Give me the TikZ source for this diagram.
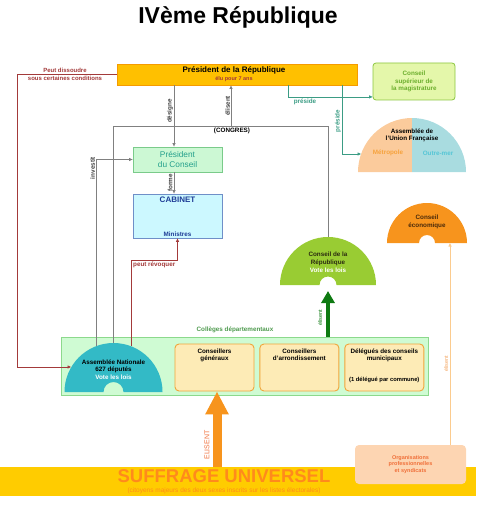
\documentclass[tikz,border=0pt]{standalone}
\usepackage{fontspec}
\setmainfont{Liberation Sans}
\usetikzlibrary{positioning}
\usetikzlibrary{calc}
\usetikzlibrary{arrows.meta}

\definecolor{presfill}{HTML}{FFC000}
\definecolor{presdraw}{HTML}{F59B00}
\definecolor{suffill}{HTML}{FFCC00}
\definecolor{suftext}{HTML}{FF8A1C}
\definecolor{redline}{HTML}{A33A3A}
\definecolor{grayline}{HTML}{808080}
\definecolor{labelgray}{HTML}{3F3F3F}
\definecolor{presteal}{HTML}{3B9C84}
\definecolor{pdcfill}{HTML}{CCF8D4}
\definecolor{pdcdraw}{HTML}{7ACB8A}
\definecolor{pdctext}{HTML}{24A08C}
\definecolor{cabfill}{HTML}{CCF8FF}
\definecolor{cabdraw}{HTML}{6F8FC8}
\definecolor{cabtext}{HTML}{1E3C96}
\definecolor{csmfill}{HTML}{E4F7AA}
\definecolor{csmdraw}{HTML}{8CC63F}
\definecolor{csmtext}{HTML}{6BAE2C}
\definecolor{ufpeach}{HTML}{FBCB9C}
\definecolor{ufblue}{HTML}{A9DCE0}
\definecolor{metrotext}{HTML}{F6A23C}
\definecolor{outretext}{HTML}{55C6D6}
\definecolor{ecofill}{HTML}{F7941D}
\definecolor{ecotext}{HTML}{4A2A0A}
\definecolor{repfill}{HTML}{99CC33}
\definecolor{reptext}{HTML}{2B2B10}
\definecolor{anfill}{HTML}{33BAC6}
\definecolor{colfill}{HTML}{CFFBD3}
\definecolor{coldraw}{HTML}{8CD98C}
\definecolor{coltext}{HTML}{4E9A4E}
\definecolor{consfill}{HTML}{FDEBB6}
\definecolor{consdraw}{HTML}{F0A53A}
\definecolor{orgfill}{HTML}{FDD5B2}
\definecolor{orgtext}{HTML}{F0703A}
\definecolor{greenarrow}{HTML}{0E7A12}
\definecolor{orangearrow}{HTML}{F7941D}
\definecolor{ecoline}{HTML}{FBCB8E}
\definecolor{ecolbl}{HTML}{F3A560}

\begin{document}
\begin{tikzpicture}[x=1pt,y=1pt,
		lbl/.style={font=\fontsize{6.3}{7.3}\selectfont\bfseries,inner sep=0pt,align=center},
		vlbl/.style={lbl,rotate=90},
		tip/.style={-{Triangle[length=3.5pt,width=3pt]}},
		conn/.style={draw=grayline,line width=0.7pt},
		consbox/.style={draw=consdraw,line width=0.9pt,fill=consfill,rounded corners=4pt,minimum width=79pt,minimum height=47pt,inner sep=0pt}]

		\useasboundingbox (0,0) rectangle (481,-508);

		% titre
		\node[font=\fontsize{23}{26}\selectfont\bfseries] (title) at (238,-17) {IVème République};

		% president de la republique
		\node[fill=presfill,draw=presdraw,line width=0.8pt,minimum width=240pt,minimum height=21pt,inner sep=0pt] (pres) at (237,-74.5) {};
		\node[font=\fontsize{8}{9}\selectfont\bfseries,inner sep=0pt] (presT) at (234,-70) {Président de la République};
		\node[lbl,font=\fontsize{5.5}{6}\selectfont\bfseries,text=redline,below=2pt of presT] (presE) {élu pour 7 ans};

		% conseil superieur de la magistrature
		\node[fill=csmfill,draw=csmdraw,line width=0.8pt,rounded corners=3pt,minimum width=82pt,minimum height=37pt,lbl,text=csmtext] (csm) at (414,-81.5)
		{Conseil\\supérieur de\\la magistrature};

		% assemblee de l'union francaise
		\fill[ufpeach] (412,-172) -- (358,-172) arc[start angle=180,end angle=90,radius=54] -- cycle;
		\fill[ufblue] (412,-172) -- (412,-118) arc[start angle=90,end angle=0,radius=54] -- cycle;
		\node[lbl] (ufT) at (412,-135) {Assemblée de\\l'Union Française};
		\node[lbl,text=metrotext] (ufM) at (388,-153) {Métropole};
		\node[lbl,text=outretext] (ufO) at (438,-153) {Outre-mer};
		\coordinate (ufL) at (361,-154);

		% conseil economique
		\fill[ecofill] (387,-243) arc[start angle=180,end angle=0,radius=40] -- (435,-243) arc[start angle=0,end angle=180,radius=8] -- cycle;
		\node[lbl,text=ecotext] (ceT) at (427,-222) {Conseil\\économique};
		\coordinate (ceB) at (450,-243);

		% president du conseil et cabinet
		\node[fill=pdcfill,draw=pdcdraw,line width=0.8pt,minimum width=89pt,minimum height=25pt,inner sep=0pt,align=center,text=pdctext,font=\fontsize{8.3}{9.5}\selectfont] (pdc) at (177.5,-159.5)
		{Président\\du Conseil};
		\node[fill=cabfill,draw=cabdraw,line width=0.8pt,minimum width=89pt,minimum height=44pt,inner sep=0pt] (cab) at (177.5,-216) {};
		\node[font=\fontsize{8}{9}\selectfont\bfseries,text=cabtext,inner sep=0pt,below=3pt of cab.north] (cabT) {CABINET};
		\node[lbl,text=cabtext,above=2pt of cab.south] (cabM) {Ministres};

		% conseil de la republique
		\fill[repfill] (280,-285) arc[start angle=180,end angle=0,radius=48] -- (336.5,-285) arc[start angle=0,end angle=180,radius=8.5] -- cycle;
		\node[lbl,text=reptext] (crT) at (328,-259) {Conseil de la\\République};
		\node[lbl,text=white,below=2pt of crT] (crV) {Vote les lois};
		\coordinate (crTop) at (328,-237);
		\coordinate (crB) at (328,-291);

		% colleges departementaux
		\node[fill=colfill,draw=coldraw,line width=0.8pt,minimum width=367pt,minimum height=58pt,inner sep=0pt] (col) at (244.5,-366) {};
		\node[lbl,text=coltext] (colT) at (235,-330) {Collèges départementaux};

		% assemblee nationale
		\fill[anfill] (64.5,-392) arc[start angle=180,end angle=0,radius=49] -- (123.5,-392) arc[start angle=0,end angle=180,radius=10] -- cycle;
		\node[lbl] (anT) at (113.5,-366) {Assemblée Nationale\\627 députés};
		\node[lbl,text=white,below=1.5pt of anT] (anV) {Vote les lois};
		\coordinate (anTop) at (113.5,-343);
		\coordinate (anL) at (71,-367);
		\coordinate (anInv) at (96,-346);
		\coordinate (anRev) at (131,-346);

		% conseillers
		\node[consbox] (cg) at (214.5,-367.5) {};
		\node[consbox,right=5pt of cg] (ca) {};
		\node[consbox,right=5pt of ca] (dcm) {};
		\node[lbl,below=5pt of cg.north] (cgT) {Conseillers\\généraux};
		\node[lbl,below=5pt of ca.north] (caT) {Conseillers\\d'arrondissement};
		\node[lbl,below=5pt of dcm.north] (dcmT) {Délégués des conseils\\municipaux};
		\node[lbl,font=\fontsize{5.8}{7}\selectfont\bfseries,above=9pt of dcm.south] (dcmN) {(1 délégué par commune)};

		% suffrage universel
		\node[fill=suffill,minimum width=476pt,minimum height=29pt,inner sep=0pt] (suf) at (238,-481.5) {};
		\node[font=\fontsize{18.5}{19}\selectfont\bfseries,text=suftext,inner sep=0pt] (sufT) at (224,-476) {SUFFRAGE UNIVERSEL};
		\node[font=\fontsize{6.5}{7}\selectfont,text=suftext,inner sep=0pt] (sufS) at (224,-490.5)
		{(citoyens majeurs des deux sexes inscrits sur les listes électorales)};

		% organisations
		\node[fill=orgfill,rounded corners=4pt,minimum width=111pt,minimum height=39pt,lbl,font=\fontsize{5.5}{6.8}\selectfont\bfseries,text=orgtext] (org) at (410.5,-464.5)
		{Organisations\\professionnelles\\et syndicats};

		% liaisons
		\coordinate (dissX) at (17,0);
		\draw[draw=redline,line width=0.7pt,tip] (pres.west) -- (pres.west -| dissX) |- (anL);
		\node[lbl,font=\fontsize{6}{7}\selectfont\bfseries,text=redline] (dissA) at (65,-70.5) {Peut dissoudre};
		\node[lbl,font=\fontsize{6}{7}\selectfont\bfseries,text=redline] (dissB) at (65,-78.5) {sous certaines conditions};

		\coordinate (desX) at (174,0);
		\draw[conn,tip] (pres.south -| desX) -- (pdc.north -| desX);
		\node[vlbl,text=labelgray] (desL) at (170,-111) {désigne};
		\draw[conn,tip] (pdc.south -| desX) -- (cab.north -| desX);
		\node[vlbl,text=labelgray] (forL) at (170,-183) {forme};

		\coordinate (congL) at (113.5,-126);
		\coordinate (congR) at (328,-126);
		\coordinate (congE) at (231,-126);
		\draw[conn] (anTop) -- (congL) -- (congR) -- (crTop);
		\draw[conn,tip] (congE) -- (pres.south -| congE);
		\node[vlbl,text=labelgray] (eliL) at (227.5,-106) {élisent};
		\node[lbl] (congT) at (232,-131) {(CONGRES)};

		\draw[conn,tip] (anInv) |- (pdc.west);
		\node[vlbl,text=labelgray] (invL) at (92.5,-168) {investit};

		\draw[draw=redline,line width=0.7pt,tip] (anRev) |- ($(cab.south)+(0,-22)$) -- (cab.south);
		\node[lbl,text=redline,anchor=north west] (revL) at (133,-262) {peut révoquer};

		\coordinate (preA) at (288,0);
		\coordinate (preB) at (342,0);
		\coordinate (csmIn) at ($(csm.south west)+(0,3.5)$);
		\draw[draw=presteal,line width=0.7pt,tip] (pres.south -| preA) |- (csmIn);
		\node[lbl,text=presteal] (preL) at (305,-102) {préside};
		\draw[draw=presteal,line width=0.7pt,tip] (pres.south -| preB) |- (ufL);
		\node[vlbl,text=presteal] (preV) at (338,-121) {préside};

		\draw[line width=4.5pt,draw=greenarrow,-{Triangle[length=12pt,width=13pt]}] (col.north -| crB) -- (crB);
		\node[vlbl,text=greenarrow,font=\fontsize{5.5}{6}\selectfont] (crEl) at (320,-318) {élisent};

		\coordinate (sufX) at (217,0);
		\draw[line width=9pt,draw=orangearrow,-{Triangle[length=23pt,width=22pt]}] (suf.north -| sufX) -- (cg.south -| sufX);
		\node[vlbl,text=orgtext,font=\fontsize{7}{8}\selectfont] (eliS) at (207,-445) {ELISENT};

		\draw[draw=ecoline,line width=0.8pt,tip] (org.north -| ceB) -- (ceB);
		\node[vlbl,text=ecolbl,font=\fontsize{5.5}{6}\selectfont] (ceEl) at (446,-364) {élisent};
	\end{tikzpicture}
\end{document}
